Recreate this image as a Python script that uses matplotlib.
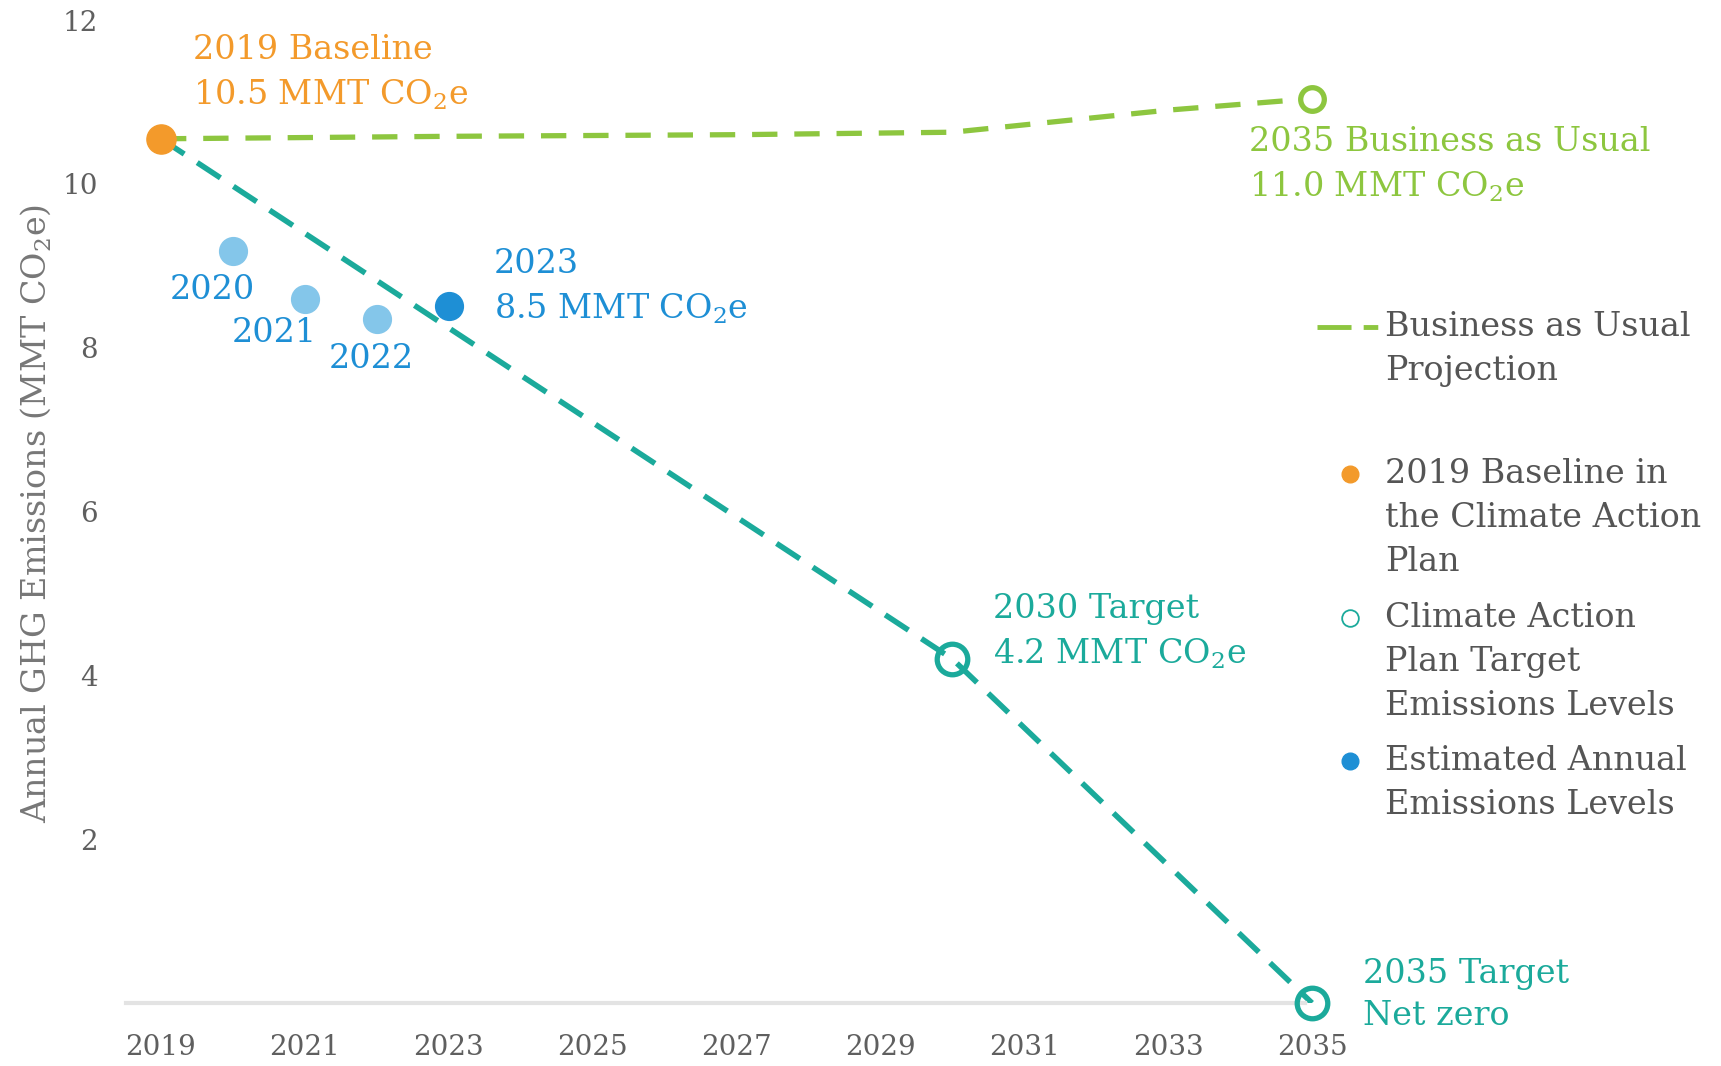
import matplotlib
matplotlib.use("Agg")
import matplotlib.pyplot as plt
from matplotlib.lines import Line2D

plt.rcParams['font.family'] = ['DejaVu Serif']
plt.rcParams['mathtext.fontset'] = 'dejavuserif'

# datos
bau_years = [2019, 2023, 2027, 2030, 2031, 2033, 2035]
bau_values = [10.55, 10.58, 10.6, 10.63, 10.72, 10.9, 11.04]

target_years = [2019, 2030, 2035]
target_values = [10.55, 4.2, 0.0]

baseline_year = [2019]
baseline_value = [10.55]

est_years = [2020, 2021, 2022]
est_values = [9.18, 8.59, 8.35]
latest_year = [2023]
latest_value = [8.51]

xticks = list(range(2019, 2036, 2))
yticks = [2, 4, 6, 8, 10, 12]

ORANGE = '#F39A2B'
GREEN = '#8DC63F'
TEAL = '#1BAA9B'
LIGHTBLUE = '#84C6EA'
BLUE = '#1E8FD5'
GRAY = '#5f5f5f'

W, H = 1721, 1066
fig = plt.figure(figsize=(W / 100, H / 100), dpi=100)
ax = fig.add_axes([126 / W, 63 / H, (W - 126) / W, 1003 / H])

x_left = 2019 - 35 / 71.94
ax.set_xlim(x_left, 2035 + (W - 1312) / 71.94)
ax.set_ylim(0, 12 + 20 / 81.9)

for s in ['top', 'right', 'left']:
    ax.spines[s].set_visible(False)
ax.spines['bottom'].set_color('#e3e3e3')
ax.spines['bottom'].set_linewidth(3)
ax.spines['bottom'].set_bounds(x_left, 2034.9)

ax.set_xticks(xticks)
ax.set_xticklabels([str(x) for x in xticks])
ax.set_yticks(yticks)
ax.tick_params(axis='both', length=0, labelsize=20, colors=GRAY)
ax.tick_params(axis='x', pad=22)
ax.tick_params(axis='y', pad=20)
ax.set_ylabel('Annual GHG Emissions (MMT CO$_2$e)', fontsize=24, color='#777777')
ax.yaxis.set_label_coords(-73 / 1595, 490 / 1003)

# lineas
ax.plot(bau_years, bau_values, color=GREEN, lw=3.8, ls=(0, (4.8, 3.2)), zorder=2)
ax.plot(target_years, target_values, color=TEAL, lw=4.0, ls=(0, (5, 2.8)), zorder=2)

# marcadores
ax.plot(bau_years[-1:], bau_values[-1:], 'o', ms=17, mfc='white', mec=GREEN, mew=3.8, zorder=3)
ax.plot(target_years[1:], target_values[1:], 'o', ms=22, mfc='none', mec=TEAL, mew=3.8, zorder=3, clip_on=False)
ax.plot(est_years, est_values, 'o', ms=20, color=LIGHTBLUE, zorder=4)
ax.plot(latest_year, latest_value, 'o', ms=20, color=BLUE, zorder=4)
ax.plot(baseline_year, baseline_value, 'o', ms=21, color=ORANGE, zorder=4)

# etiquetas
fs = 24
ls = 1.42
ax.text(2019.44, 11.35, '2019 Baseline\n10.5 MMT CO$_2$e', color=ORANGE, fontsize=fs, va='center', ha='left', linespacing=ls)
ax.text(2034.12, 10.23, '2035 Business as Usual\n11.0 MMT CO$_2$e', color=GREEN, fontsize=fs, va='center', ha='left', linespacing=ls)
ax.text(2023.63, 8.74, '2023\n8.5 MMT CO$_2$e', color=BLUE, fontsize=fs, va='center', ha='left', linespacing=ls)
ax.text(2019.72, 8.71, '2020', color=BLUE, fontsize=fs, va='center', ha='center')
ax.text(2020.57, 8.18, '2021', color=BLUE, fontsize=fs, va='center', ha='center')
ax.text(2021.92, 7.86, '2022', color=BLUE, fontsize=fs, va='center', ha='center')
ax.text(2030.57, 4.53, '2030 Target\n4.2 MMT CO$_2$e', color=TEAL, fontsize=fs, va='center', ha='left', linespacing=ls)
ax.text(2035.71, 0.1, '2035 Target\nNet zero', color=TEAL, fontsize=fs, va='center', ha='left', linespacing=ls, clip_on=False)

# leyenda manual
def fx(px):
    return px / W

def fy(py):
    return 1 - py / H

fig.add_artist(Line2D([fx(1317), fx(1381)], [fy(327), fy(327)], color=GREEN, lw=3.5,
                      ls=(0, (7, 2.5, 3, 10))))
fig.add_artist(Line2D([fx(1350)], [fy(474)], marker='o', ms=12, color=ORANGE, ls='none'))
fig.add_artist(Line2D([fx(1350)], [fy(618)], marker='o', ms=12, mfc='white', mec=TEAL, mew=1.3, ls='none'))
fig.add_artist(Line2D([fx(1350)], [fy(761)], marker='o', ms=12, color=BLUE, ls='none'))

leg_items = [
    (327, ['Business as Usual', 'Projection']),
    (474, ['2019 Baseline in', 'the Climate Action', 'Plan']),
    (618, ['Climate Action', 'Plan Target', 'Emissions Levels']),
    (761, ['Estimated Annual', 'Emissions Levels']),
]
for y0, lines in leg_items:
    for i, t in enumerate(lines):
        fig.text(fx(1385), fy(y0 + i * 44), t, fontsize=fs, color='#555555', va='center', ha='left')

fig.savefig('out.png', dpi=100, facecolor='white')
